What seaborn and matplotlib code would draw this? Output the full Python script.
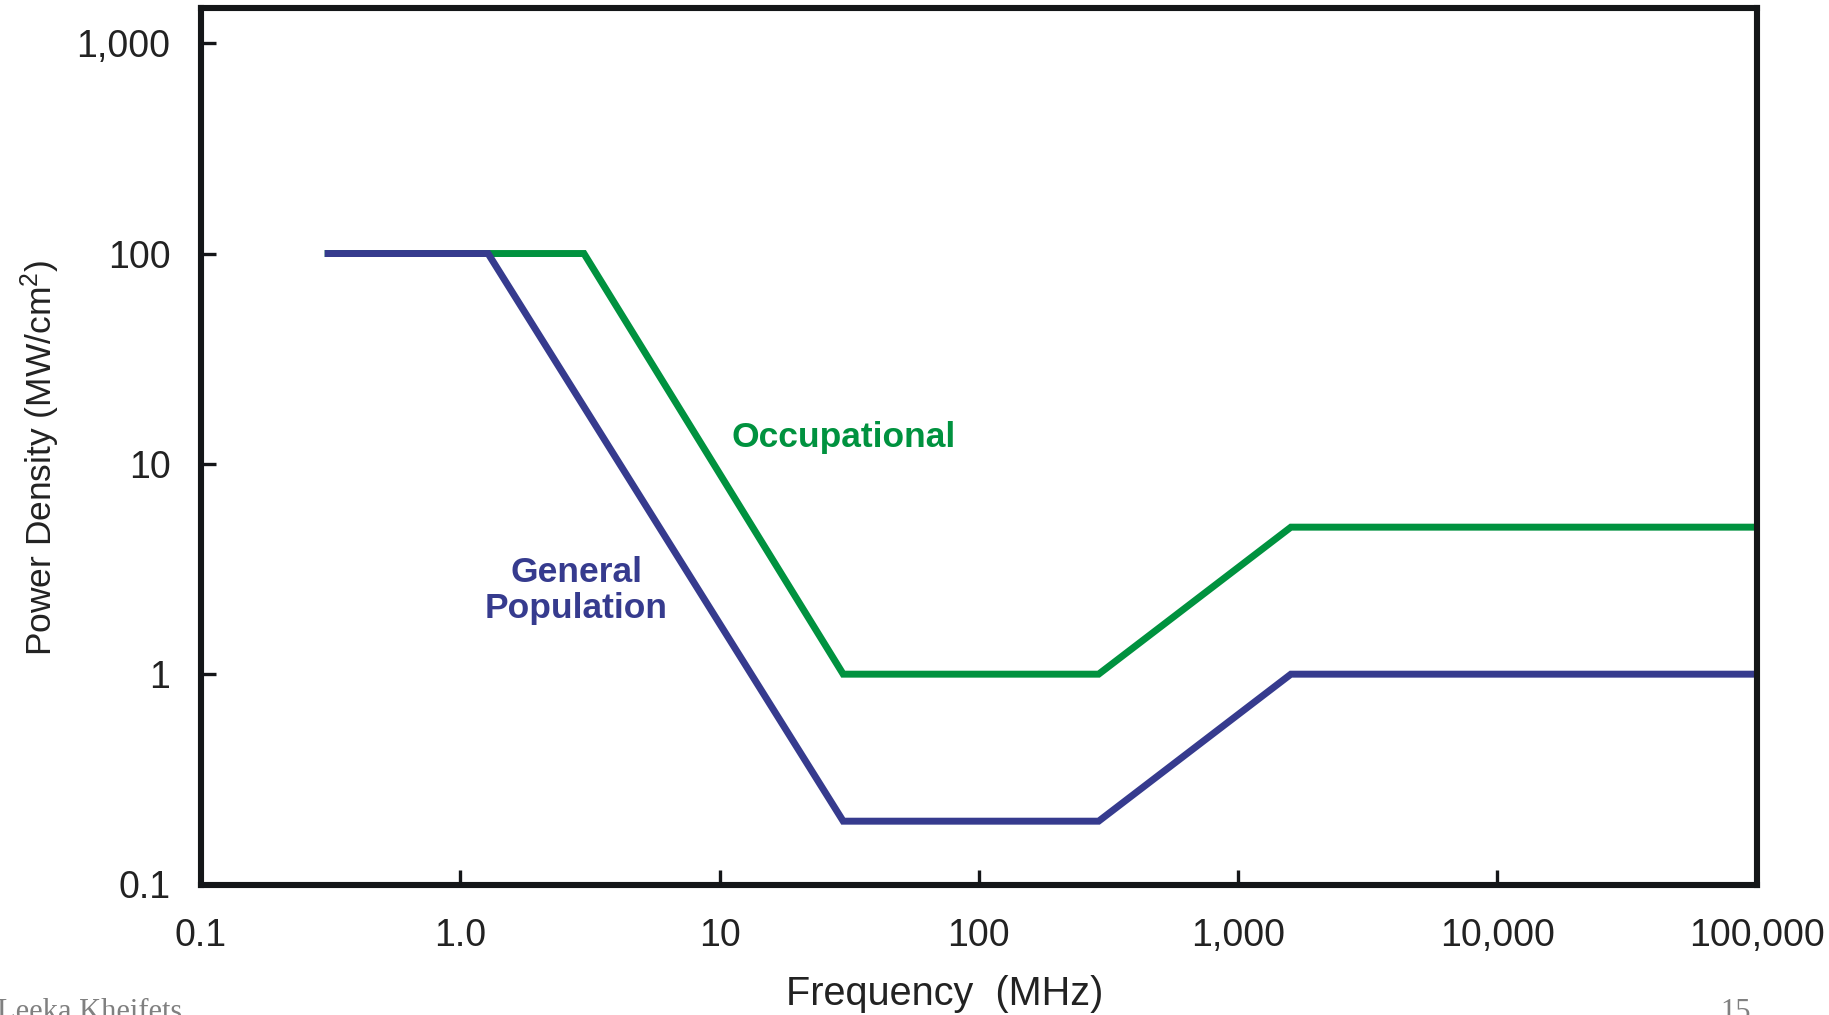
import matplotlib
matplotlib.use("Agg")
import matplotlib.pyplot as plt
import pandas as pd
import seaborn as sns

# Breakpoints of the exposure limits (MHz, mW/cm^2)
general_freq = [0.3, 1.28, 30, 290, 1600, 100000]
general_power = [100, 100, 0.2, 0.2, 1, 1]
occupational_freq = [0.3, 3, 30, 290, 1600, 100000]
occupational_power = [100, 100, 1, 1, 5, 5]

x_ticks = [0.1, 1, 10, 100, 1000, 10000, 100000]
x_tick_labels = ["0.1", "1.0", "10", "100", "1,000", "10,000", "100,000"]
y_ticks = [0.1, 1, 10, 100, 1000]
y_tick_labels = ["0.1", "1", "10", "100", "1,000"]

blue = "#363b8e"
green = "#00923f"
ink = "#222222"

sns.set_theme(style="white")
plt.rcParams["font.family"] = ["Liberation Sans", "DejaVu Sans"]
plt.rcParams["mathtext.fontset"] = "custom"
plt.rcParams["mathtext.rm"] = "Liberation Sans"
plt.rcParams["mathtext.it"] = "Liberation Sans"

df_gen = pd.DataFrame({"freq": general_freq, "power": general_power})
df_occ = pd.DataFrame({"freq": occupational_freq, "power": occupational_power})

fig = plt.figure(figsize=(18.29, 10.15), dpi=100)
ax = fig.add_axes([201 / 1829, 1 - 884.5 / 1015, 1555.5 / 1829, 876.5 / 1015])

# Occupational first, general population drawn on top
sns.lineplot(data=df_occ, x="freq", y="power", sort=False, estimator=None,
             color=green, lw=5, ax=ax, solid_joinstyle="miter", solid_capstyle="butt")
sns.lineplot(data=df_gen, x="freq", y="power", sort=False, estimator=None,
             color=blue, lw=5, ax=ax, solid_joinstyle="miter", solid_capstyle="butt")

ax.set_xscale("log")
ax.set_yscale("log")
ax.set_xlim(0.1, 100000)
ax.set_ylim(0.1, 1470)
ax.set_xticks(x_ticks)
ax.set_xticklabels(x_tick_labels)
ax.set_yticks(y_ticks)
ax.set_yticklabels(y_tick_labels)
ax.minorticks_off()

ax.tick_params(axis="both", which="major", bottom=True, left=True, direction="in",
               length=11, width=2.4, color="#141618", labelsize=27, labelcolor=ink)
ax.tick_params(axis="x", pad=24)
ax.tick_params(axis="y", pad=22)

for side in ["left", "right", "top", "bottom"]:
    ax.spines[side].set_visible(True)
    ax.spines[side].set_linewidth(4.4)
    ax.spines[side].set_color("#141618")

ax.set_xlabel("Frequency  (MHz)", fontsize=28.5, color=ink, va="baseline")
ax.xaxis.set_label_coords(0.478, -0.1375)
ax.set_ylabel(r"Power Density (MW/cm$^{2}$)", fontsize=25.5, color=ink,
              va="center", ha="center")
ax.yaxis.set_label_coords(-0.1035, 0.4866)

# Curve labels
ax.text(30, 13.4, "Occupational", color=green, fontsize=25.5, fontweight="bold",
        ha="center", va="center")
ax.text(2.8, 2.49, "General\nPopulation", color=blue, fontsize=25.5, fontweight="bold",
        ha="center", va="center", multialignment="center", linespacing=1.12)

# Slide footer
fig.text(-3 / 1829, -5 / 1015, "Leeka Kheifets", family="Liberation Serif",
         fontsize=22, color="#808080", va="baseline", ha="left")
fig.text(1720 / 1829, -5 / 1015, "15", family="Liberation Serif",
         fontsize=22, color="#808080", va="baseline", ha="left")

fig.savefig("out.png", dpi=100)
